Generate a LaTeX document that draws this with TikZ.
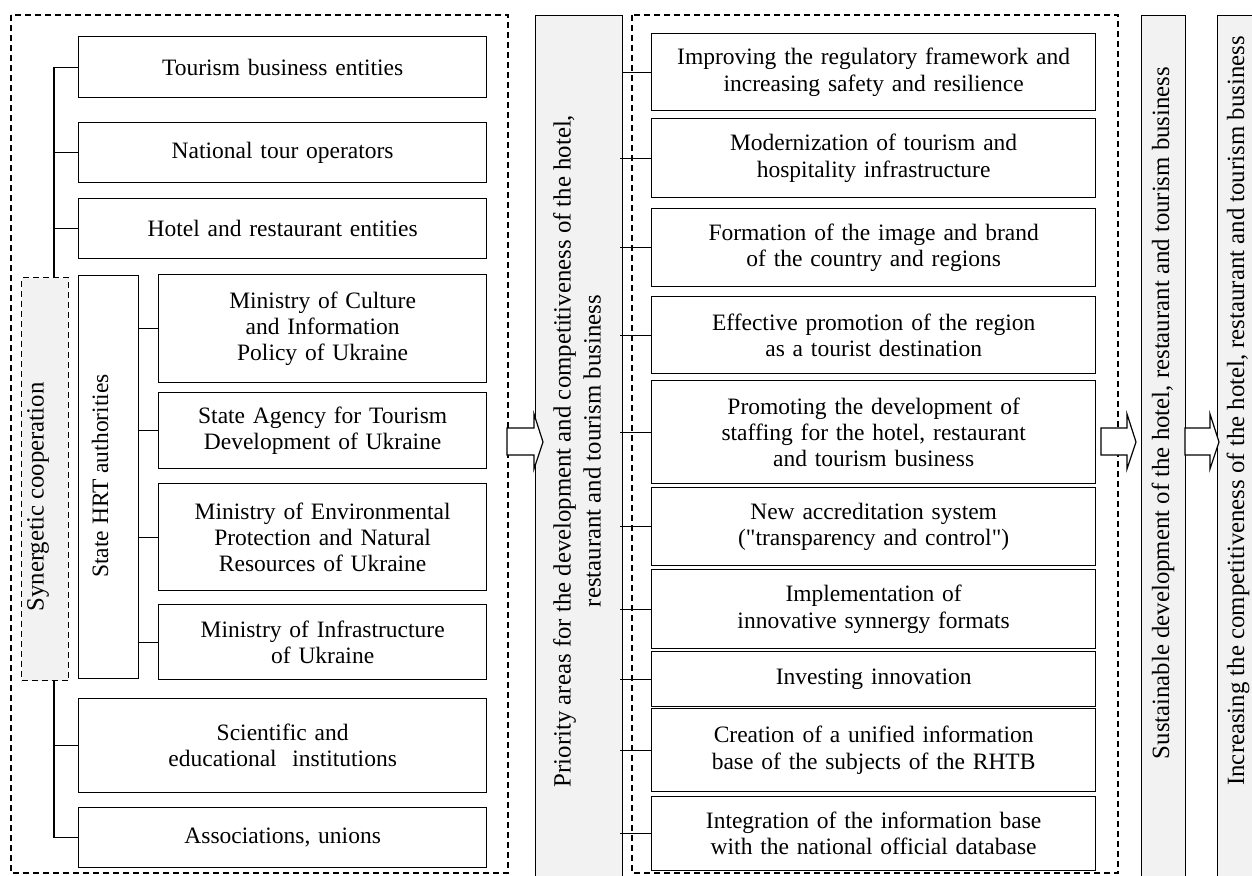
\documentclass[tikz,border=0pt]{standalone}
\usepackage{fontspec}
\setmainfont{Liberation Serif}[Ligatures=TeXOff]
\usetikzlibrary{calc}
\definecolor{lightfill}{HTML}{F2F2F2}
\tikzset{
  box/.style={draw=black, line width=1.3pt, fill=white, anchor=north west, inner sep=2pt, align=center, font=\fontsize{23.5}{26.3}\selectfont},
  dbox/.style={draw=black, line width=1.1pt, dash pattern=on 6pt off 4pt},
  graybar/.style={draw=black, line width=1.3pt, fill=lightfill, anchor=north west, inner sep=0pt},
  rottext/.style={rotate=90, align=center, font=\fontsize{24.8}{30}\selectfont},
  conn/.style={draw=black, line width=1.2pt},
  barrow/.style={draw=black, line width=1.2pt, fill=white, line join=miter}
}
\newcommand{\mkbox}[6]{\node[box, minimum width=#4pt, minimum height=#5pt, text width=#4pt-8pt] (#1) at (#2,#3) {#6};}
\newcommand{\blockarr}[4]{% x1, xhead, xtip, ycenter
  \draw[barrow] (#1,#4-14) -- (#2,#4-14) -- (#2,#4-28) -- (#3,#4) -- (#2,#4+27) -- (#2,#4+13) -- (#1,#4+13) -- cycle;}
\begin{document}
\begin{tikzpicture}[x=1pt,y=-1pt]
\clip (0,0) rectangle (1252,875);
\fill[white] (0,0) rectangle (1252,875);

% dashed containers
\draw[dbox] (11,15) rectangle (508,873);
\draw[dbox] (632,15) rectangle (1118,873);

% left column
\mkbox{tbe}{78}{36}{408}{61}{Tourism business entities}
\mkbox{nto}{78}{122}{408}{60}{National tour operators}
\mkbox{hre}{78}{198}{408}{60}{Hotel and restaurant entities}
\node[box, minimum width=60pt, minimum height=403pt] (hrt) at (78,275) {};
\node[rottext, font=\fontsize{23.5}{28}\selectfont] (hrtlabel) at (100,476) {State HRT authorities};
\mkbox{mc}{158}{274}{328}{108}{Ministry of Culture\\and Information\\Policy of Ukraine}
\mkbox{sa}{158}{392}{328}{76}{State Agency for Tourism\\Development of Ukraine}
\mkbox{me}{158}{483}{328}{107}{Ministry of Environmental\\Protection and Natural\\Resources of Ukraine}
\mkbox{mi}{158}{604}{328}{75}{Ministry of Infrastructure\\of Ukraine}
\mkbox{sei}{78}{698}{408}{94}{Scientific and\\educational~~institutions\\[12pt]}
\mkbox{au}{78}{807}{408}{60}{Associations, unions}

% synergetic cooperation
\node[draw=black, line width=1.1pt, dash pattern=on 6pt off 4pt, fill=lightfill, anchor=north west, minimum width=47pt, minimum height=403pt, inner sep=0pt] (syn) at (21,277) {};
\node[rottext] (synlabel) at (38,497) {Synergetic cooperation};

% trunk
\coordinate (trunk) at (54,0);
\draw[conn] (tbe.west -| trunk) -- (syn.north -| trunk);
\draw[conn] (syn.south -| trunk) -- (au.west -| trunk);
\foreach \b in {tbe,nto,hre,sei,au} \draw[conn] (\b.west -| trunk) -- (\b.west);
\foreach \b in {mc,sa,me,mi} \draw[conn] (hrt.east |- \b.west) -- (\b.west);

% priority bar
\node[graybar, minimum width=87pt, minimum height=880pt] (pr) at (535,15) {};
\node[rottext] (prlabel) at (577,451) {Priority areas for the development and competitiveness of the hotel,\\restaurant and tourism business};

% right column
\mkbox{r1}{651}{33}{444}{77}{Improving the regulatory framework and\\increasing safety and resilience}
\mkbox{r2}{651}{118}{444}{79}{Modernization of tourism and\\hospitality infrastructure}
\mkbox{r3}{651}{208}{444}{78}{Formation of the image and brand\\of the country and regions}
\mkbox{r4}{651}{296}{444}{77}{Effective promotion of the region\\as a tourist destination}
\mkbox{r5}{651}{380}{444}{103}{Promoting the development of\\staffing for the hotel, restaurant\\and tourism business}
\mkbox{r6}{651}{487}{444}{78}{New accreditation system\\("transparency and control")}
\mkbox{r7}{651}{569}{444}{79}{Implementation of\\innovative synnergy formats}
\mkbox{r8}{651}{651}{444}{55}{Investing innovation}
\mkbox{r9}{651}{708}{444}{83}{Creation of a unified information\\base of the subjects of the RHTB}
\mkbox{r10}{651}{796}{444}{74}{Integration of the information base\\with the national official database}
\draw[conn] (pr.east |- r1.west) -- (r1.west);
\foreach \b in {r2,r3,r4,r5,r6,r7,r8,r9,r10} \draw[conn] ($(pr.east |- \b.west)+(-3,0)$) -- (\b.west);

% result bars
\node[graybar, minimum width=44pt, minimum height=880pt] (sd) at (1141,15) {};
\node[rottext] (sdlabel) at (1163,413) {Sustainable development of the hotel, restaurant and tourism business};
\node[graybar, minimum width=60pt, minimum height=880pt] (ic) at (1217,15) {};
\node[rottext] (iclabel) at (1238,411) {Increasing the competitiveness of the hotel, restaurant and tourism business};

% block arrows
\blockarr{507}{534}{543}{442}
\blockarr{1101}{1127}{1136}{442}
\blockarr{1185}{1210}{1219}{442}
\end{tikzpicture}
\end{document}
